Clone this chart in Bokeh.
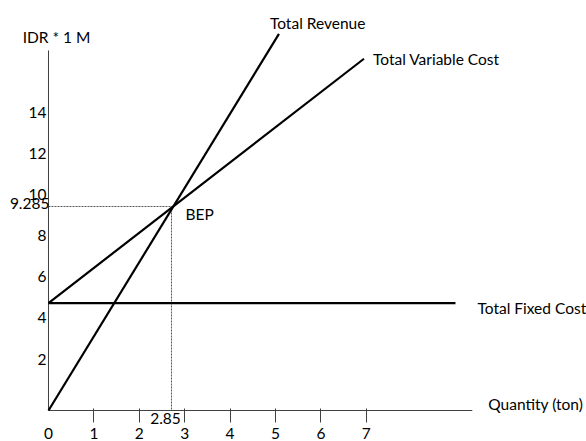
from bokeh.plotting import figure
from bokeh.models import Range1d, LinearAxis, FixedTicker, Label
from bokeh.embed import file_html
from bokeh.resources import INLINE

# ---------------- data ----------------
quantity_ticks = [0, 1, 2, 3, 4, 5, 6, 7]          # ton (labels)
quantity_tick_marks = [1, 2, 3, 4, 5, 6, 7]       # ton (tick marks; none at the origin)
idr_ticks = [2, 4, 6, 8, 10, 12, 14]              # IDR * 1 M

total_revenue_q = [0, 5.34]
total_revenue_v = [0, 17.14]
total_variable_cost_q = [0, 7.31]
total_variable_cost_v = [4.89, 16.01]
total_fixed_cost_q = [0, 9.43]
total_fixed_cost_v = [4.89, 4.89]

bep_q = 2.85
bep_v = 9.285
bep_q_label = "2.85"
bep_v_label = "9.285"

quantity_axis_end = 9.82
idr_axis_end = 16.39

FONT = "Lato"
FSIZE = "15.5px"

p = figure(width=586, height=441, title=None,
           x_range=Range1d(-1.1122, 12.466), y_range=Range1d(-1.411, 18.661),
           x_axis_location=None, y_axis_location=None,
           min_border=0, min_border_left=0, min_border_right=0,
           min_border_top=0, min_border_bottom=0,
           output_backend="svg", toolbar_location=None, outline_line_color=None,
           background_fill_color="white", border_fill_color="white")
p.grid.visible = False

# scales of the hand-placed tick labels
p.extra_x_ranges = {"xt": Range1d(-1.0573, 11.850)}
p.extra_y_ranges = {"yt": Range1d(-2.008, 19.431)}

# x tick marks (crossing the axis)
xticks = LinearAxis(x_range_name="xt", ticker=FixedTicker(ticks=quantity_tick_marks), fixed_location=0)
xticks.axis_line_color = None
xticks.major_tick_line_color = "#404040"
xticks.major_tick_line_width = 1
xticks.major_tick_in = 2
xticks.major_tick_out = 12
xticks.minor_tick_line_color = None
xticks.major_label_text_color = None
p.add_layout(xticks, "below")

# x tick labels
xax = LinearAxis(x_range_name="xt", ticker=FixedTicker(ticks=quantity_ticks), fixed_location=0)
xax.axis_line_color = None
xax.major_tick_line_color = None
xax.major_tick_in = 0
xax.major_tick_out = 12
xax.minor_tick_line_color = None
xax.major_label_standoff = 6
xax.major_label_text_font = FONT
xax.major_label_text_font_size = FSIZE
xax.major_label_text_color = "black"
p.add_layout(xax, "below")

yax = LinearAxis(y_range_name="yt", ticker=FixedTicker(ticks=idr_ticks), fixed_location=0)
yax.axis_line_color = None
yax.major_tick_line_color = None
yax.major_tick_in = 0
yax.major_tick_out = 0
yax.minor_tick_line_color = None
yax.major_label_standoff = 2
yax.major_label_text_font = FONT
yax.major_label_text_font_size = FSIZE
yax.major_label_text_color = "black"
p.add_layout(yax, "left")

# axis lines
p.line([0, quantity_axis_end], [0, 0], line_color="#404040", line_width=1)
p.line([0, 0], [0, idr_axis_end], line_color="#404040", line_width=1)

# BEP guide lines
p.line([0, bep_q], [bep_v, bep_v], line_color="#555555", line_width=1, line_dash="2 1")
p.line([bep_q, bep_q], [bep_v, 0], line_color="#555555", line_width=1, line_dash="2 1")

# curves
p.line(total_fixed_cost_q, total_fixed_cost_v, line_color="black", line_width=2.2)
p.line(total_variable_cost_q, total_variable_cost_v, line_color="black", line_width=2.2)
p.line(total_revenue_q, total_revenue_v, line_color="black", line_width=2.2)


def lab(x, y, text, dx, dy, align="left"):
    p.add_layout(Label(x=x, y=y, text=text, x_offset=dx, y_offset=dy,
                       text_align=align, text_baseline="middle",
                       text_font=FONT, text_font_size=FSIZE, text_color="black"))


lab(0, idr_axis_end, "IDR * 1 M", 8, 13, "center")
lab(0, bep_v, bep_v_label, 1, 3, "right")
lab(bep_q, 0, bep_q_label, -6, -8, "center")
lab(bep_q, bep_v, "BEP", 14, -7.5)
lab(total_revenue_q[-1], total_revenue_v[-1], "Total Revenue", -9, 11)
lab(total_variable_cost_q[-1], total_variable_cost_v[-1], "Total Variable Cost", 9, 0)
lab(total_fixed_cost_q[-1], total_fixed_cost_v[-1], "Total Fixed Cost", 22, -4.5)
lab(quantity_axis_end, 0, "Quantity (ton)", 16, 6)

open("out.html", "w").write(file_html(p, INLINE))
